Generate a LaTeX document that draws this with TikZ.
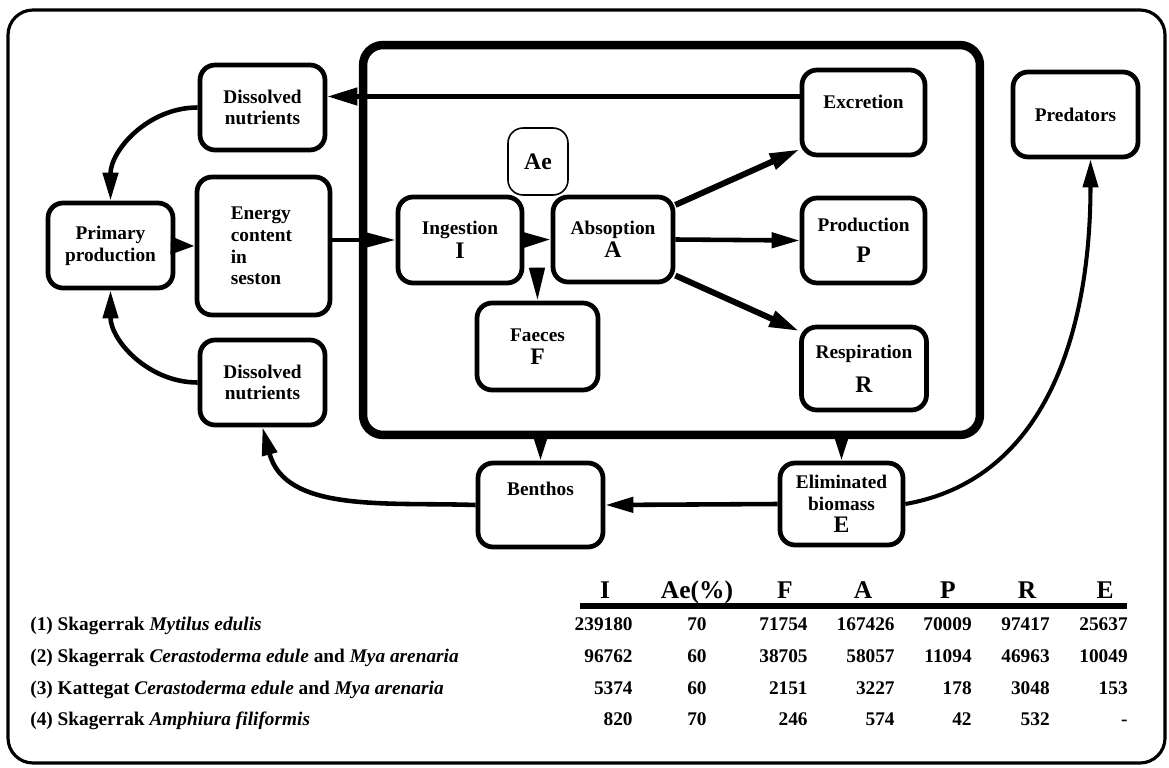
\documentclass[tikz,border=0pt]{standalone}
\usepackage{fontspec}
\setmainfont{Liberation Serif}
\usetikzlibrary{arrows.meta}

\newcommand{\boxsym}[1]{{\fontsize{13.5}{15}\selectfont #1}}

\begin{document}
\begin{tikzpicture}[x=0.02cm, y=-0.02cm,
  every node/.style={font=\fontsize{11}{12.4}\selectfont\bfseries},
  box/.style={draw, line width=2.7pt, rounded corners=0.3cm, minimum width=2.5cm, minimum height=1.7cm, align=center, inner sep=1pt},
  flow/.style={line width=2.6pt, -{Triangle[length=0.56cm, width=0.3cm]}},
  wide/.style={line width=3.4pt, -{Triangle[length=0.6cm, width=0.32cm]}},
  num/.style={anchor=base east, inner sep=0pt},
  head/.style={anchor=base, font=\fontsize{14.5}{16}\selectfont\bfseries, inner sep=0pt}]
  \useasboundingbox (0,0) rectangle (1169,767);
  \draw[line width=1.8pt, rounded corners=0.5cm] (8,10) rectangle (1165,763);

  % outside the animal
  \node[box] (dn1) at (262.5,107.5) {Dissolved\\nutrients};
  \node[box] (pp) at (110.5,245.5) {Primary\\production};
  \node[box, minimum width=2.66cm, minimum height=2.76cm, align=left] (ec) at (263.5,246) {Energy\\content\\in\\seston\hspace*{0.3cm}};
  \node[box] (dn2) at (262.5,382.5) {Dissolved\\nutrients};
  \node[box] (pred) at (1075.5,114.5) {Predators};
  \node[box, minimum height=1.68cm] (ben) at (540.5,505) {Benthos\\[6pt]~};
  \node[box, minimum width=2.46cm, minimum height=1.64cm] (elim) at (841.5,504) {Eliminated\\biomass\\\boxsym{E}};

  % the animal
  \node[draw, line width=4.8pt, rounded corners=0.4cm, minimum width=12.34cm, minimum height=7.8cm] (animal) at (671.5,240) {};
  \node[draw, line width=0.9pt, rounded corners=0.3cm, minimum width=1.2cm, minimum height=1.34cm] (ae) at (538,161.5) {\boxsym{Ae}};
  \node[box, minimum width=2.48cm, minimum height=1.72cm] (ing) at (460,240) {Ingestion\\[1pt]\boxsym{I}};
  \node[box, minimum width=2.4cm] (abs) at (613,239.5) {Absoption\\[1pt]\boxsym{A}};
  \node[box, minimum width=2.42cm, minimum height=1.74cm] (fae) at (537.5,346.5) {Faeces\\[1pt]\boxsym{F}};
  \node[box, minimum width=2.46cm] (exc) at (863.5,112.5) {Excretion\\~};
  \node[box, minimum width=2.46cm] (prod) at (863.5,240.5) {Production\\[5pt]\boxsym{P}};
  \node[box, minimum height=1.66cm] (resp) at (864,368.5) {Respiration\\[7pt]\boxsym{R}};
  \coordinate (split) at (537,268);

  % flows
  \draw[flow] (dn1.west) to[out=180, in=90] (pp.north);
  \draw[flow] (dn2.west) to[out=180, in=-90] (pp.south);
  \draw[flow, -{Triangle[length=0.48cm, width=0.34cm]}] (pp.east) -- (ec.west);
  \draw[flow, -{Triangle[length=0.7cm, width=0.34cm]}] (ec.east |- ing.west) -- (ing.west);
  \draw[flow] (ing.east) -- (abs.west);
  \draw[flow, -{Triangle[length=0.66cm, width=0.3cm]}] (split) -- (fae.north);
  \draw[wide] (abs.29) -- (exc.210);
  \draw[flow] (abs.east) -- (prod.west);
  \draw[wide] (abs.-30) -- (resp.150);
  \draw[flow, -{Triangle[length=0.6cm, width=0.34cm]}] ([yshift=0.32cm]exc.west) -- ([yshift=0.32cm]exc.west -| dn1.east);
  \draw[flow, -{Triangle[length=0.5cm, width=0.28cm]}] (ben.north |- animal.south) -- (ben.north);
  \draw[flow, -{Triangle[length=0.5cm, width=0.28cm]}] (elim.north |- animal.south) -- (elim.north);
  \draw[flow] (elim.west) -- (ben.east);
  \draw[flow] (ben.west) to[out=178, in=-75] (dn2.south);
  \draw[flow, line width=2.3pt] (elim.east) to[out=10, in=-90] ([xshift=0.3cm]pred.south);

  % table
  \foreach \lab/\x [count=\c] in {I/605, Ae(\%)/697, F/785, A/863, P/948, R/1027, E/1105}
    \node[head] (h\c) at (\x,598) {\lab};
  \draw[line width=3.5pt] (580,606) -- (1127,606);
  \foreach \r/\y/\lab in {1/630/{(1) Skagerrak \textit{Mytilus edulis}},
      2/662/{(2) Skagerrak \textit{Cerastoderma edule} and \textit{Mya arenaria}},
      3/694/{(3) Kattegat \textit{Cerastoderma edule} and \textit{Mya arenaria}},
      4/725/{(4) Skagerrak \textit{Amphiura filiformis}}}
    \node[anchor=base west, inner sep=0pt] (lab\r) at (30,\y) {\lab};
  \foreach \r/\y/\vals in {1/630/{239180,70,71754,167426,70009,97417,25637},
      2/662/{96762,60,38705,58057,11094,46963,10049},
      3/694/{5374,60,2151,3227,178,3048,153},
      4/725/{820,70,246,574,42,532,-}}
    \foreach \v [count=\c] in \vals {
      \pgfmathsetmacro{\xr}{{633,707,808,895,972,1050,1128}[\c-1]}
      \node[num] (n\r\c) at (\xr,\y) {\v};
    }
\end{tikzpicture}
\end{document}
